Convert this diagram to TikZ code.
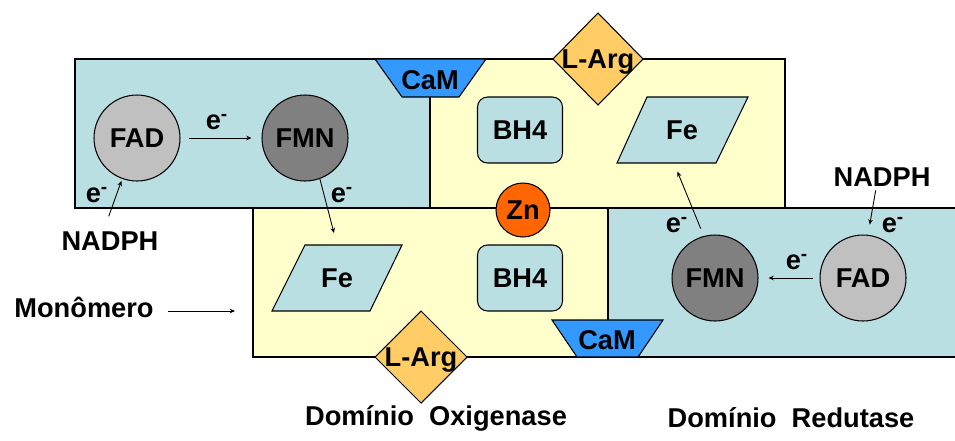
\documentclass[tikz,border=0pt]{standalone}
\usepackage{fontspec}
\setmainfont{Liberation Sans}
\usetikzlibrary{arrows.meta}

% Cores
\definecolor{azulclaro}{RGB}{185,223,227}
\definecolor{amareloclaro}{RGB}{255,255,204}
\definecolor{azulcam}{RGB}{51,153,255}
\definecolor{laranjaarg}{RGB}{255,204,102}
\definecolor{laranjazn}{RGB}{255,102,0}
\definecolor{cinzaclaro}{RGB}{192,192,192}
\definecolor{cinzaescuro}{RGB}{128,128,128}

\newcommand{\rotfonte}{\fontsize{15.5}{18}\selectfont\bfseries}

\tikzset{
  caixa/.style={draw=black, line width=0.8pt},
  forma/.style={draw=black, line width=0.6pt},
  rotulo/.style={font=\rotfonte, inner sep=1pt},
  cofator/.style={circle, draw=black, line width=0.6pt, minimum size=1.72cm, inner sep=0pt, font=\rotfonte},
  bh/.style={rectangle, rounded corners=0.2cm, draw=black, line width=0.6pt, fill=azulclaro,
    minimum width=1.7cm, minimum height=1.32cm, font=\rotfonte},
  ferro/.style={minimum height=1.32cm, inner sep=0pt, font=\rotfonte},
  seta/.style={-{Stealth[length=3pt,width=2.6pt]}, line width=0.5pt},
}

\begin{document}
\begin{tikzpicture}[x=0.02cm, y=-0.02cm]
\useasboundingbox (0,0) rectangle (955,440);

% Dominios
\filldraw[caixa, fill=azulclaro] (75,59) rectangle (430,208);
\filldraw[caixa, fill=amareloclaro] (430,59) rectangle (785,208);
\filldraw[caixa, fill=amareloclaro] (253,208) rectangle (608,357);
\filldraw[caixa, fill=azulclaro] (608,208) rectangle (957,357);

% CaM
\filldraw[forma, fill=azulcam] (375,59) -- (486,59) -- (459,97) -- (402,97) -- cycle;
\node[rotulo] (camA) at (430,80) {CaM};
\filldraw[forma, fill=azulcam] (552,320) -- (663,320) -- (638,357) -- (577,357) -- cycle;
\node[rotulo] (camB) at (607,340) {CaM};

% L-Arg
\filldraw[forma, fill=laranjaarg] (598,13) -- (643,59) -- (598,105) -- (553,59) -- cycle;
\node[rotulo] (argA) at (598,62) {L-Arg};
\filldraw[forma, fill=laranjaarg] (421,311) -- (467,357) -- (421,403) -- (375,357) -- cycle;
\node[rotulo] (argB) at (421,360) {L-Arg};

% BH4
\node[bh] (bhA) at (520,130) {BH4};
\node[bh] (bhB) at (520,278) {BH4};

% Fe
\filldraw[forma, fill=azulclaro] (647,97) -- (748,97) -- (716,163) -- (617,163) -- cycle;
\node[ferro] (feA) at (682,130) {Fe};
\filldraw[forma, fill=azulclaro] (305,245) -- (402,245) -- (370,311) -- (272,311) -- cycle;
\node[ferro] (feB) at (337,278) {Fe};

% Zn
\node[cofator, fill=laranjazn, minimum size=1.08cm] (zn) at (523,210) {Zn};

% FAD e FMN
\node[cofator, fill=cinzaclaro] (fadA) at (137,138) {FAD};
\node[cofator, fill=cinzaescuro] (fmnA) at (305,138) {FMN};
\node[cofator, fill=cinzaclaro] (fadB) at (863,278) {FAD};
\node[cofator, fill=cinzaescuro] (fmnB) at (715,278) {FMN};

% NADPH e textos
\node[rotulo] (nadphA) at (110,241) {NADPH};
\node[rotulo] (nadphB) at (882,177) {NADPH};
\node[rotulo] (monomero) at (84,307) {Monômero};
\coordinate (alvoMono) at (235,311);
\node[rotulo] (domOxi) at (436,418) {Domínio\ \ Oxigenase};
\node[rotulo] (domRed) at (791,418) {Domínio\ \ Redutase};

% Eletrons
\node[rotulo] (eA) at (217,122) {e\textsuperscript{-}};
\node[rotulo] (eB) at (97,195) {e\textsuperscript{-}};
\node[rotulo] (eC) at (342,195) {e\textsuperscript{-}};
\node[rotulo] (eD) at (677,225) {e\textsuperscript{-}};
\node[rotulo] (eE) at (893,225) {e\textsuperscript{-}};
\node[rotulo] (eF) at (797,262) {e\textsuperscript{-}};

% Setas
\draw[seta, shorten <=0.16cm, shorten >=0.2cm] (fadA) -- (fmnA);
\draw[seta, shorten <=0.14cm, shorten >=0.2cm] (fadB) -- (fmnB);
\draw[seta, shorten <=0.28cm, shorten >=0.04cm] ([xshift=-0.12cm]nadphA.north) -- (fadA.250);
\draw[seta, shorten <=0.04cm, shorten >=0.2cm] ([xshift=-0.12cm]nadphB.south) -- ([xshift=0.1cm]fadB.north);
\draw[seta, shorten >=0.24cm] (fmnA.290) -- (feB.north);
\draw[seta, shorten <=0.16cm, shorten >=0.18cm] (fmnB.105) -- ([xshift=-0.16cm]feA.south);
\draw[seta, shorten <=0.24cm] (monomero.east |- alvoMono) -- (alvoMono);
\end{tikzpicture}
\end{document}
